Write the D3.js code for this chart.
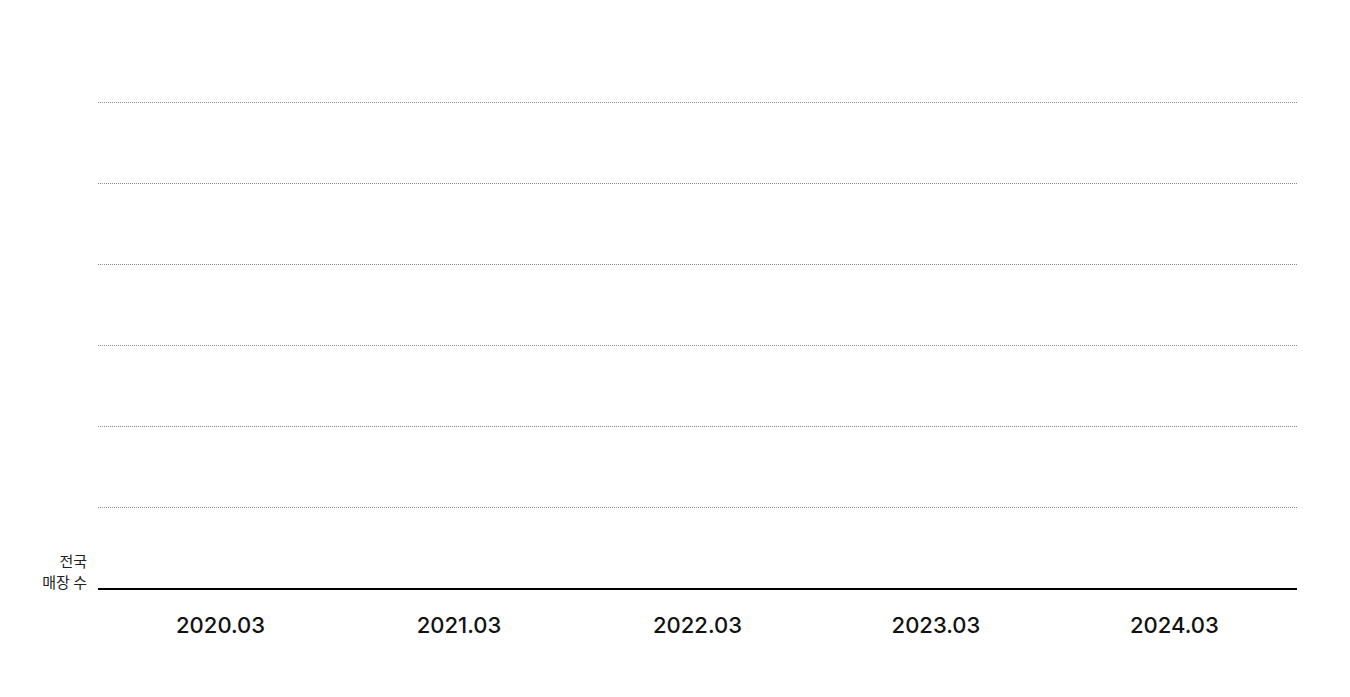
<!DOCTYPE html>
<html>
<head>
<meta charset="utf-8">
<script src="https://cdn.jsdelivr.net/npm/d3@7"></script>
<style>
  body { margin: 0; background: #fff; }
  svg { display: block; }
</style>
</head>
<body>
<svg id="chart" width="1350" height="697"></svg>
<script>
const periods = ['2020.03', '2021.03', '2022.03', '2023.03', '2024.03'];
const gridSteps = [1, 2, 3, 4, 5, 6];
const yLabel = ['전국', '매장 수'];

const margin = { top: 102, right: 53, bottom: 108, left: 98 };
const width = 1350, height = 697;
const svg = d3.select('#chart');

const x = d3.scalePoint()
  .domain(periods)
  .range([margin.left, width - margin.right])
  .padding(0.514);

const y = d3.scaleLinear()
  .domain([0, d3.max(gridSteps)])
  .range([height - margin.bottom, margin.top]);

// grid
svg.append('g')
  .selectAll('line')
  .data(gridSteps)
  .join('line')
  .attr('x1', margin.left)
  .attr('x2', width - margin.right)
  .attr('y1', d => Math.floor(y(d)) + 0.5)
  .attr('y2', d => Math.floor(y(d)) + 0.5)
  .attr('stroke', '#8a8a8a')
  .attr('stroke-width', 1)
  .attr('stroke-dasharray', '1,1');

// baseline
svg.append('line')
  .attr('x1', margin.left)
  .attr('x2', width - margin.right)
  .attr('y1', y(0))
  .attr('y2', y(0))
  .attr('stroke', '#000')
  .attr('stroke-width', 2);

// x labels
svg.append('g')
  .selectAll('text')
  .data(periods)
  .join('text')
  .attr('x', d => x(d))
  .attr('y', y(0) + 44)
  .attr('text-anchor', 'middle')
  .attr('font-family', 'Inter, "Noto Sans", sans-serif')
  .attr('font-size', 22)
  .attr('font-weight', 500)
  .attr('fill', '#111')
  .text(d => d);

// y label, one text per line
svg.append('g')
  .selectAll('text')
  .data(yLabel)
  .join('text')
  .attr('text-anchor', 'end')
  .attr('font-family', '"Noto Sans CJK KR", sans-serif')
  .attr('font-size', 15)
  .attr('fill', '#222')
  .attr('x', 87)
  .attr('y', (d, i) => y(0) - 22 + i * 21)
  .text(d => d);
</script>
</body>
</html>
